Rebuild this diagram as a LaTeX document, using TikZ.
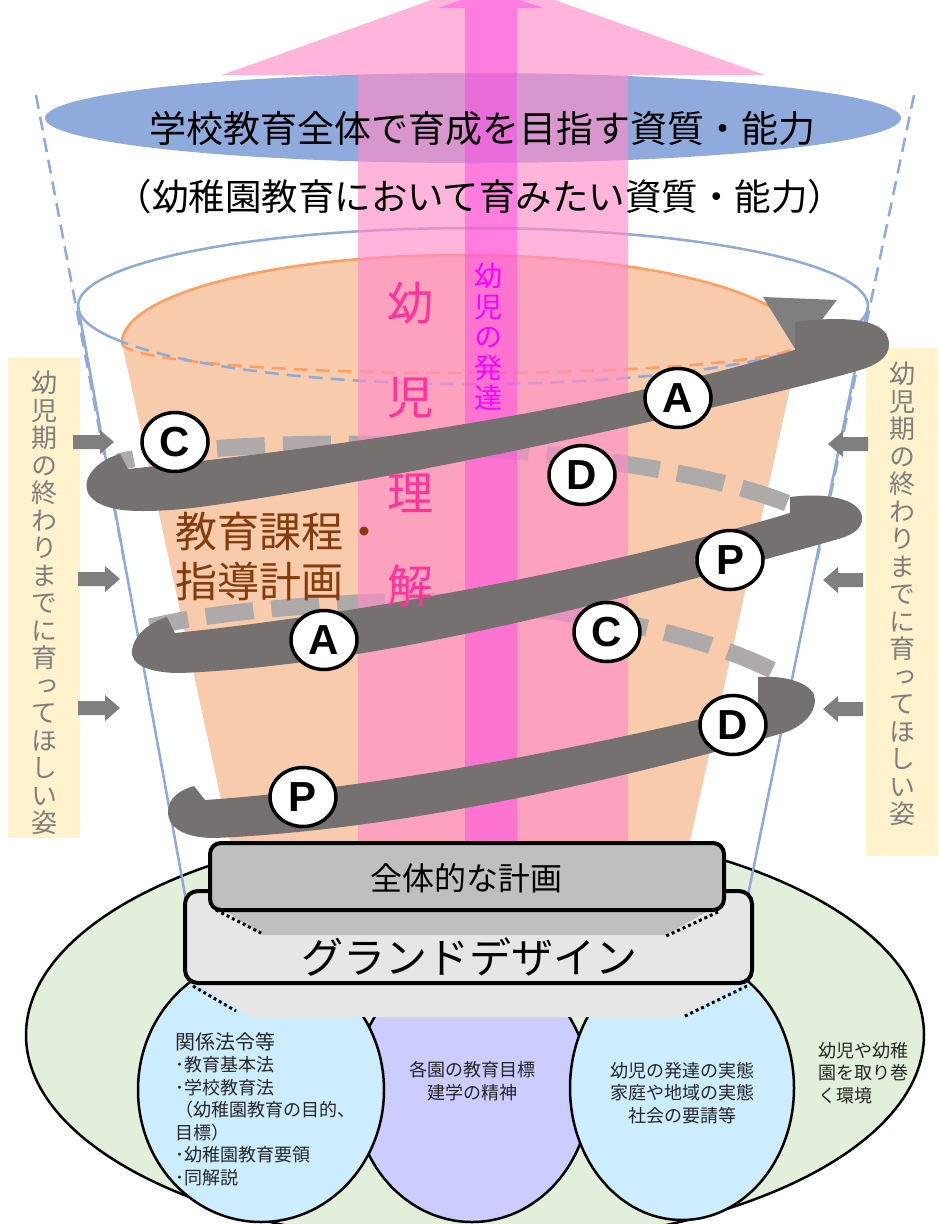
\documentclass[tikz,border=0pt]{standalone}
\usepackage{fontspec}
\newfontfamily\jp{Noto Sans CJK JP}
\newfontfamily\jpv[RawFeature=+vert]{Noto Sans CJK JP}
\newfontfamily\lat{Liberation Sans}
\usetikzlibrary{shapes.geometric}
\definecolor{bandc}{HTML}{767171}
\definecolor{backc}{HTML}{AEAAAA}
\definecolor{conec}{HTML}{8EA9DB}
\definecolor{peach}{HTML}{F8CBAD}
\definecolor{orangel}{HTML}{FF9E5E}
\definecolor{topblue}{HTML}{8FAADC}
\definecolor{pinkw}{RGB}{255,140,200}
\definecolor{pinkn}{RGB}{255,60,230}
\definecolor{greenbg}{HTML}{E2EFDA}
\definecolor{lblue}{HTML}{CCECFF}
\definecolor{lpurple}{HTML}{CCCCFF}
\definecolor{yell}{HTML}{FFF2CC}
\definecolor{graya}{HTML}{7F7F7F}
\definecolor{brownt}{HTML}{843C0C}
\definecolor{rikai}{HTML}{FF3399}
\definecolor{hattatsu}{HTML}{FF00FF}
\definecolor{boxg}{HTML}{BFBFBF}
\definecolor{boxl}{HTML}{E7E6E6}
\definecolor{txt}{HTML}{262626}
\begin{document}
\begin{tikzpicture}[x=1pt,y=-1pt,
  conel/.style={draw=conec, line width=2.5pt},
  conedash/.style={draw=conec, line width=2.5pt, dash pattern=on 14pt off 8pt},
  orl/.style={draw=orangel, line width=2.5pt},
  backband/.style={draw=backc, line width=17pt, dash pattern=on 48pt off 18pt},
  pdca/.style={ellipse, draw=black, line width=3.5pt, fill=white, minimum width=66pt, minimum height=59pt, inner sep=0pt, font=\lat\bfseries\fontsize{42}{42}\selectfont},
  vside/.style={align=center, text=graya, font=\jpv\fontsize{26}{27.5}\selectfont, inner sep=0pt},
  rikaich/.style={text=rikai, font=\jp\fontsize{46}{46}\selectfont, inner sep=0pt},
  btext/.style={font=\jp\fontsize{18}{22.5}\selectfont, text=txt, inner sep=0pt},
  dotl/.style={line width=3pt, dash pattern=on 3pt off 3pt},
  boxline/.style={draw=black, line width=4pt, rounded corners=13pt}]
\useasboundingbox (0,0) rectangle (941,1224);
\clip (0,0) rectangle (941,1224);
\fill[white] (0,0) rectangle (941,1224);
% environment ellipse
\draw[fill=greenbg, line width=2.5pt] (475,1035) ellipse [x radius=449pt, y radius=210pt];
% bottom ellipses
\draw[fill=lpurple, line width=2.5pt] (472,1091) ellipse [x radius=118pt, y radius=131pt];
\draw[fill=lblue, line width=2.5pt] (261,1090) ellipse [x radius=123pt, y radius=132pt];
\draw[fill=lblue, line width=2.5pt] (682,1088) ellipse [x radius=112pt, y radius=132pt];
% top blue ellipse
\fill[topblue] (473,118) ellipse [x radius=428pt, y radius=45pt];
% outer dashed lines
\draw[conedash] (36,95) -- (124,560);
\draw[conedash] (914,95) -- (817,560);
% peach cone
\fill[peach] (122,343) arc[start angle=180, end angle=0, x radius=339pt, y radius=88pt] -- (688,850) -- (232,850) -- cycle;
\draw[orl] (122,343) arc[start angle=180, end angle=0, x radius=339pt, y radius=88pt];
\draw[orl, dash pattern=on 14pt off 8pt] (122,343) arc[start angle=180, end angle=360, x radius=339pt, y radius=30pt];
% blue cone
\draw[conel] (78,306) arc[start angle=180, end angle=0, x radius=395pt, y radius=78pt];
\draw[conel] (78,306) arc[start angle=180, end angle=205, x radius=395pt, y radius=78pt] coordinate (bl);
\draw[conedash] (bl) arc[start angle=205, end angle=335, x radius=395pt, y radius=78pt] coordinate (br);
\draw[conel] (br) arc[start angle=335, end angle=360, x radius=395pt, y radius=78pt];
\draw[conel] (78,306) -- (186,900);
\draw[conel] (868,306) -- (747,900);
% back (dashed) bands
\draw[backband] (772,670) .. controls (660,615) and (480,598) .. (380,602) .. controls (280,606) and (200,615) .. (150,627);
\draw[backband] (787,503) .. controls (680,462) and (500,445) .. (350,444) .. controls (250,444) and (170,450) .. (118,462);
% pink arrows
\fill[pinkw, opacity=0.65] (358,860) -- (358,75) -- (222,75) -- (493,-22) -- (765,75) -- (628,75) -- (628,860) -- cycle;
\fill[pinkn, opacity=0.45] (465,860) -- (465,8) -- (438,8) -- (491,-10) -- (543,8) -- (517,8) -- (517,860) -- cycle;
% texts
\node[font=\jp\fontsize{37}{37}\selectfont, inner sep=0pt] (title) at (482,128) {学校教育全体で育成を目指す資質・能力};
\node[font=\jp\fontsize{36.5}{36.5}\selectfont, inner sep=0pt] (sub) at (480,197) {（幼稚園教育において育みたい資質・能力）};
\node[align=center, text=hattatsu, font=\jpv\fontsize{28}{30.6}\selectfont, inner sep=0pt] (hat) at (488,337) {幼\\児\\の\\発\\達};
\node[anchor=west, align=left, text=brownt, font=\jp\fontsize{42}{50}\selectfont, inner sep=0pt] (kyoiku) at (175,557) {教育課程・\\指導計画};
% side boxes
\fill[yell] (8,358) rectangle (80,838);
\fill[yell] (866,348) rectangle (938,856);
\node[vside] (lefttext) at (44,603) {幼\\児\\期\\の\\終\\わ\\り\\ま\\で\\に\\育\\っ\\て\\ほ\\し\\い\\姿};
\node[vside] (righttext) at (902,594) {幼\\児\\期\\の\\終\\わ\\り\\ま\\で\\に\\育\\っ\\て\\ほ\\し\\い\\姿};
% gray side arrows
\fill[graya] (73,435) -- (100,435) -- (100,430) -- (114,442) -- (100,454) -- (100,449) -- (73,449) -- cycle;
\fill[graya] (78,572) -- (105,572) -- (105,566) -- (120,579) -- (105,592) -- (105,586) -- (78,586) -- cycle;
\fill[graya] (78,701) -- (105,701) -- (105,695) -- (120,708) -- (105,721) -- (105,715) -- (78,715) -- cycle;
\fill[graya] (868,437) -- (843,437) -- (843,431) -- (828,444) -- (843,457) -- (843,451) -- (868,451) -- cycle;
\fill[graya] (863,573) -- (838,573) -- (838,567) -- (823,580) -- (838,593) -- (838,587) -- (863,587) -- cycle;
\fill[graya] (863,702) -- (838,702) -- (838,696) -- (823,709) -- (838,722) -- (838,716) -- (863,716) -- cycle;
% arrow head at top right
\fill[graya] (763,297) -- (837,300) -- (797,352) -- cycle;
% front bands
\fill[bandc] (120,454) -- (128,469) .. controls (330,448) and (600,410) .. (795,350) -- (795,322) .. controls (840,316) and (882,318) .. (888,338) .. controls (893,354) and (880,364) .. (860,370) .. controls (760,400) and (400,480) .. (200,507) .. controls (170,511) and (140,512) .. (122,510) .. controls (92,506) and (82,492) .. (88,478) .. controls (94,465) and (108,457) .. (120,454) -- cycle;
\fill[bandc] (167,617) -- (175,633) .. controls (350,615) and (600,570) .. (790,513) -- (790,497) .. controls (830,492) and (860,500) .. (862,517) .. controls (863,530) and (850,536) .. (835,540) .. controls (620,600) and (380,665) .. (180,673) .. controls (150,673) and (130,665) .. (132,650) .. controls (134,635) and (150,622) .. (167,617) -- cycle;
\fill[bandc] (194,786) -- (205,800) .. controls (380,788) and (600,745) .. (758,705) -- (758,677) .. controls (790,675) and (815,685) .. (815,700) .. controls (815,715) and (800,728) .. (783,733) .. controls (620,780) and (400,830) .. (215,838) .. controls (185,838) and (168,828) .. (168,812) .. controls (168,798) and (180,790) .. (194,786) -- cycle;
% child understanding text (over the bands)
\node[rikaich] (r1) at (410,303) {幼};
\node[rikaich] (r2) at (410,398) {児};
\node[rikaich] (r3) at (410,493) {理};
\node[rikaich] (r4) at (410,586) {解};
% PDCA circles
\node[pdca] (c1) at (175,442) {C};
\node[pdca] (a1) at (678,398) {A};
\node[pdca] (d1) at (582,475) {D};
\node[pdca] (p1) at (730,560) {P};
\node[pdca] (a2) at (324,640) {A};
\node[pdca] (c2) at (607,632) {C};
\node[pdca] (d2) at (733,725) {D};
\node[pdca] (p2) at (303,797) {P};
% grand design
\fill[boxl] (190,978) -- (750,978) -- (682,1017) -- (252,1017) -- cycle;
\draw[dotl] (193,986) -- (236,1011);
\draw[dotl] (747,986) -- (683,1017);
\draw[boxline, fill=boxl] (185,891) rectangle (752,983);
\fill[boxg] (213,903) -- (722,903) -- (666,935) -- (262,935) -- cycle;
\draw[dotl] (216,910) -- (261,933);
\draw[dotl] (718,912) -- (664,937);
\draw[boxline, fill=boxg, rounded corners=11pt] (210,843) rectangle (724,910);
\node[font=\jp\fontsize{32}{32}\selectfont, inner sep=0pt] (zentai) at (466,878) {全体的な計画};
\node[font=\jp\fontsize{42}{42}\selectfont, inner sep=0pt] (gd) at (469,957) {グランドデザイン};
% bottom texts
\node[btext, anchor=north west, align=left] (law) at (175,1032) {{\fontsize{20}{22.5}\selectfont 関係法令等}\\･教育基本法\\･学校教育法\\（幼稚園教育の目的、\\目標）\\･幼稚園教育要領\\･同解説};
\node[btext, align=center] (mid) at (472,1081) {各園の教育目標\\建学の精神};
\node[btext, align=center] (rgt) at (682,1093) {幼児の発達の実態\\家庭や地域の実態\\社会の要請等};
\node[btext, anchor=north west, align=left] (env) at (818,1042) {幼児や幼稚\\園を取り巻\\く環境};
\end{tikzpicture}
\end{document}
